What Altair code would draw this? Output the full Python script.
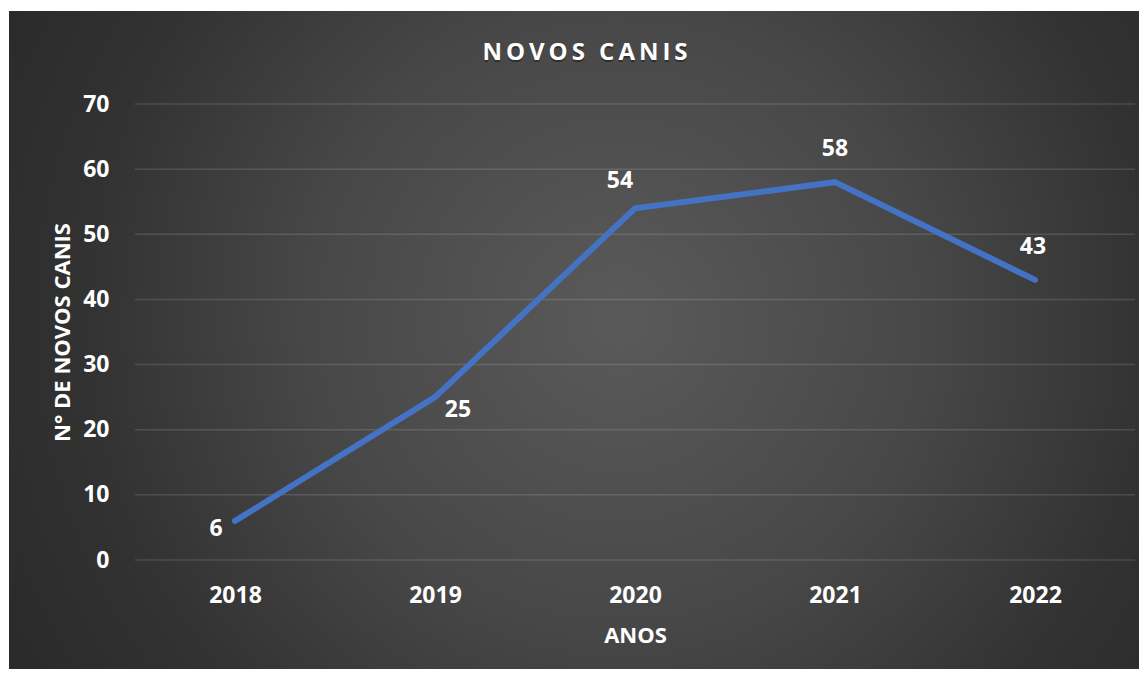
import altair as alt
import pandas as pd

# ---- data ----
years = ["2018", "2019", "2020", "2021", "2022"]
values = [6, 25, 54, 58, 43]
y_ticks = [0, 10, 20, 30, 40, 50, 60, 70]
chart_title = "N\u2009O\u2009V\u2009O\u2009S\u2009 \u2009C\u2009A\u2009N\u2009I\u2009S"
x_title = "ANOS"
y_title = "N° DE NOVOS CANIS"

df = pd.DataFrame({"ano": years, "canis": values})
grid_df = pd.DataFrame({"canis": y_ticks})
one = pd.DataFrame({"t": [chart_title]})

FONT = "Open Sans"
W, H = 1000, 456
PAD_L, PAD_T, PAD_R, PAD_B = 127, 96, 4, 109

# label placement (pixel offsets from the point)
label_offsets = {
    "2018": (-19, 8),
    "2019": (23, 13),
    "2020": (-15, -27),
    "2021": (0, -33),
    "2022": (-2, -33),
}

x_axis = alt.Axis(
    title=x_title,
    titleX=W / 2,
    titleY=75,
    titleBaseline="middle",
    labelAngle=0,
    labelBaseline="middle",
    labelPadding=35,
    ticks=False,
    domain=False,
    grid=False,
    zindex=2,
)
y_axis = alt.Axis(
    title=y_title,
    values=y_ticks,
    titleX=-73,
    titleY=H / 2,
    titleAngle=-90,
    titleBaseline="middle",
    titleAlign="center",
    labelPadding=26,
    ticks=False,
    domain=False,
    grid=False,
    zindex=2,
)
x_enc = alt.X("ano:N", sort=years, scale=alt.Scale(type="point", padding=0.5), axis=x_axis)
y_scale = alt.Scale(domain=[0, 70], nice=False, zero=True)
y_enc = alt.Y("canis:Q", scale=y_scale, axis=y_axis)

gradient = alt.RadialGradient(
    gradient="radial",
    x1=0.54, y1=0.482, r1=0,
    x2=0.54, y2=0.482, r2=0.6,
    stops=[
        alt.GradientStop(color="#5a5a5a", offset=0),
        alt.GradientStop(color="#474747", offset=0.46),
        alt.GradientStop(color="#323232", offset=0.79),
        alt.GradientStop(color="#2b2b2b", offset=1),
    ],
)

bg = alt.Chart(one).mark_rect(fill=gradient, stroke=None).encode(
    x=alt.value(1 - PAD_L),
    x2=alt.value(1131 - PAD_L),
    y=alt.value(3 - PAD_T),
    y2=alt.value(661 - PAD_T),
)

grid = alt.Chart(grid_df).mark_rule(color="white", opacity=0.13, strokeWidth=1.5).encode(
    y=y_enc,
    x=alt.value(0),
    x2=alt.value(W),
)

line = alt.Chart(df).mark_line(
    color="#4472C4", strokeWidth=6, strokeCap="round", strokeJoin="miter"
).encode(x=x_enc, y=y_enc)

label_layers = []
for yr, (dx, dy) in label_offsets.items():
    label_layers.append(
        alt.Chart(df)
        .transform_filter(alt.datum.ano == yr)
        .mark_text(
            font=FONT, fontSize=23, fontWeight="bold", color="white",
            align="center", baseline="middle", dx=dx, dy=dy,
        )
        .encode(x=x_enc, y=y_enc, text="canis:Q")
    )

title_shadow = alt.Chart(one).mark_text(
    font=FONT, fontSize=24, fontWeight="bold", color="black", opacity=0.35,
    align="center", baseline="middle", dy=2,
).encode(x=alt.value(450), y=alt.value(-51), text="t:N")

title_text = alt.Chart(one).mark_text(
    font=FONT, fontSize=24, fontWeight="bold", color="white",
    align="center", baseline="middle",
).encode(x=alt.value(450), y=alt.value(-51), text="t:N")

chart = alt.layer(bg, grid, line, *label_layers, title_shadow, title_text).properties(
    width=W,
    height=H,
    autosize=alt.AutoSizeParams(type="none"),
    padding={"left": PAD_L, "top": PAD_T, "right": PAD_R, "bottom": PAD_B},
    background="#ffffff",
).configure_view(stroke=None).configure_axis(
    labelFont=FONT,
    labelFontSize=23,
    labelFontWeight="bold",
    labelColor="white",
    titleFont=FONT,
    titleFontSize=22,
    titleFontWeight="bold",
    titleColor="white",
)

chart.save("out.html", embed_options={"renderer": "svg", "actions": False})
